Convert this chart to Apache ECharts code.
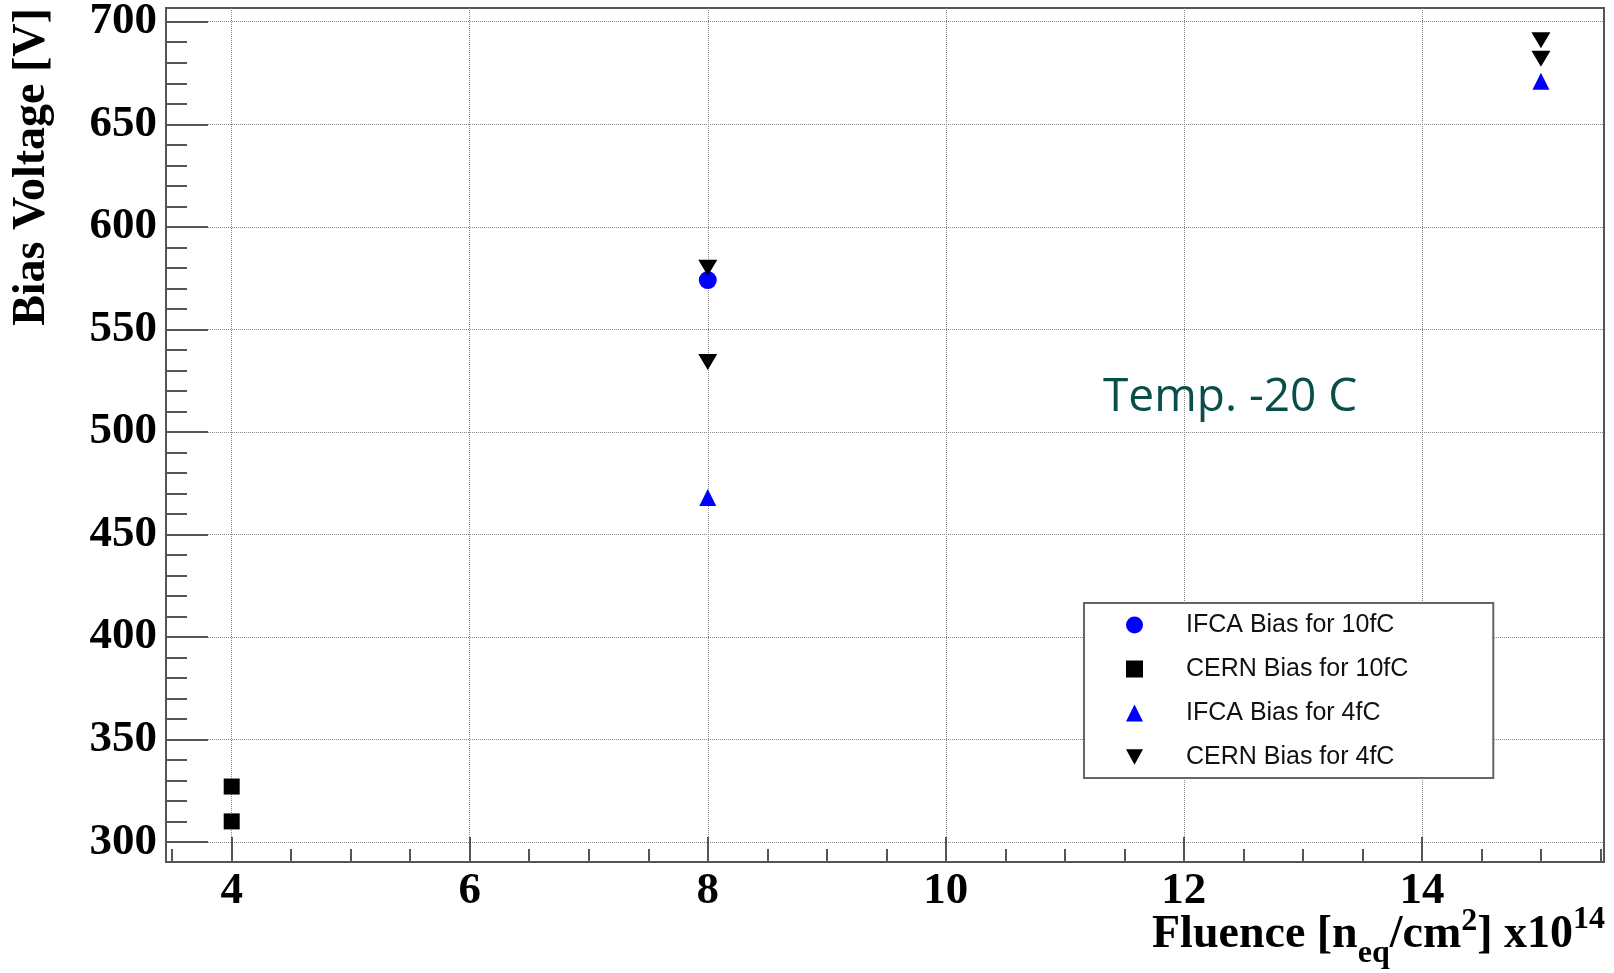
<!DOCTYPE html>
<html><head><meta charset="utf-8">
<script src="https://cdn.jsdelivr.net/npm/echarts@6/dist/echarts.min.js"></script>
<style>html,body{margin:0;padding:0;background:#fff}#c{width:1614px;height:973px}</style>
</head><body><div id="c"></div>
<script>
// ---- data ----
const seriesNames = ['IFCA Bias for 10fC', 'CERN Bias for 10fC', 'IFCA Bias for 4fC', 'CERN Bias for 4fC'];
const ifca10 = [[8, 574]];
const cern10 = [[4, 327], [4, 310]];
const ifca4 = [[8, 468], [15, 671]];
const cern4 = [[8, 580], [8, 534], [15, 691], [15, 682]];
const xTicks = [4, 6, 8, 10, 12, 14];
const yTicks = [300, 350, 400, 450, 500, 550, 600, 650, 700];
const xMinorTicks = [3.5, 4, 4.5, 5, 5.5, 6, 6.5, 7, 7.5, 8, 8.5, 9, 9.5, 10, 10.5, 11, 11.5, 12, 12.5, 13, 13.5, 14, 14.5, 15, 15.5];
const yMinorTicks = [300, 310, 320, 330, 340, 350, 360, 370, 380, 390, 400, 410, 420, 430, 440, 450, 460, 470, 480, 490, 500, 510, 520, 530, 540, 550, 560, 570, 580, 590, 600, 610, 620, 630, 640, 650, 660, 670, 680, 690, 700];
const xRange = [3.448, 15.53];
const yRange = [290.2, 706.7];
const tempLabel = 'Temp. -20 C';
const yTitle = 'Bias Voltage [V]';

// ---- chart ----
const chart = echarts.init(document.getElementById('c'), null, {renderer: 'canvas'});
const axisCol = '#555';
const gridCol = '#888';
const serif = '"Liberation Serif", "Times New Roman", serif';
const downTriangle = 'path://M0,0L20,0L10,18Z';

function mainX() {
  return {
    type: 'value', min: xRange[0], max: xRange[1], position: 'bottom', gridIndex: 0,
    axisLine: {show: true, onZero: false, lineStyle: {color: axisCol, width: 2}},
    axisTick: {show: true, inside: true, length: 25, customValues: xTicks, lineStyle: {color: axisCol, width: 2}},
    axisLabel: {show: true, customValues: xTicks, fontFamily: serif, fontWeight: 'bold', fontSize: 45, color: '#000', margin: 7},
    splitLine: {show: true, lineStyle: {type: 'dotted', color: gridCol, width: 1}},
    minorTick: {show: false}, minorSplitLine: {show: false}
  };
}
function minorX() {
  return {
    type: 'value', min: xRange[0], max: xRange[1], position: 'bottom', gridIndex: 0, offset: 0,
    axisLine: {show: false, onZero: false},
    axisTick: {show: true, inside: true, length: 13, customValues: xMinorTicks, lineStyle: {color: axisCol, width: 2}},
    axisLabel: {show: false}, splitLine: {show: false}
  };
}
function mainY() {
  return {
    type: 'value', min: yRange[0], max: yRange[1], position: 'left', gridIndex: 0,
    axisLine: {show: true, onZero: false, lineStyle: {color: axisCol, width: 2}},
    axisTick: {show: true, inside: true, length: 42, customValues: yTicks, lineStyle: {color: axisCol, width: 2}},
    axisLabel: {show: true, customValues: yTicks, fontFamily: serif, fontWeight: 'bold', fontSize: 45, color: '#000', margin: 9},
    splitLine: {show: true, lineStyle: {type: 'dotted', color: gridCol, width: 1}}
  };
}
function minorY() {
  return {
    type: 'value', min: yRange[0], max: yRange[1], position: 'left', gridIndex: 0, offset: 0,
    axisLine: {show: false, onZero: false},
    axisTick: {show: true, inside: true, length: 21, customValues: yMinorTicks, lineStyle: {color: axisCol, width: 2}},
    axisLabel: {show: false}, splitLine: {show: false}
  };
}

// x-axis title pieces with sub/superscripts, laid out by measuring text
const titleParts = [
  {t: 'Fluence [n', size: 46, dy: 0},
  {t: 'eq', size: 32, dy: 14},
  {t: '/cm', size: 46, dy: 0},
  {t: '2', size: 32, dy: -18},
  {t: '] x10', size: 46, dy: 0},
  {t: '14', size: 32, dy: -20}
];
const mctx = document.createElement('canvas').getContext('2d');
const graphics = [];
let cx = 1152;
const baseY = 951;
titleParts.forEach(p => {
  mctx.font = 'bold ' + p.size + 'px ' + serif;
  const w = mctx.measureText(p.t).width;
  graphics.push({
    type: 'text', x: cx, y: baseY + p.dy - 0.34 * p.size, z: 10,
    style: {text: p.t, fontFamily: serif, fontWeight: 'bold', fontSize: p.size, fill: '#000', align: 'left', verticalAlign: 'middle'}
  });
  cx += w;
});
graphics.push({
  type: 'text', x: 32, y: 167, rotation: Math.PI / 2, z: 10,
  style: {text: yTitle, fontFamily: serif, fontWeight: 'bold', fontSize: 46, fill: '#000', align: 'center', verticalAlign: 'middle'}
});
graphics.push({
  type: 'text', x: 1103, y: 398, z: 10,
  style: {text: tempLabel, fontFamily: '"Open Sans", "Noto Sans", sans-serif', fontSize: 46, fill: '#0a4e49', align: 'left', verticalAlign: 'middle'}
});

const option = {
  animation: false,
  backgroundColor: '#fff',
  grid: {left: 166, top: 8, right: 10, bottom: 111, show: true, borderColor: axisCol, borderWidth: 2, backgroundColor: 'transparent', containLabel: false, outerBoundsMode: 'none'},
  xAxis: [mainX(), minorX()],
  yAxis: [mainY(), minorY()],
  legend: {
    orient: 'vertical', left: 1084, top: 603,
    padding: [9, 85, 8, 42], itemGap: 18, itemWidth: 17, itemHeight: 17,
    borderColor: '#666', borderWidth: 2, backgroundColor: '#fff',
    textStyle: {fontFamily: '"Liberation Sans", Arial, sans-serif', fontSize: 25, color: '#111', lineHeight: 26, padding: [0, 0, 0, 38]},
    data: [
      {name: seriesNames[0]},
      {name: seriesNames[1]},
      {name: seriesNames[2]},
      {name: seriesNames[3], icon: downTriangle}
    ]
  },
  graphic: graphics,
  series: [
    {name: seriesNames[0], type: 'scatter', xAxisIndex: 0, yAxisIndex: 0, data: ifca10, symbol: 'circle', symbolSize: 18, itemStyle: {color: '#0000ff', opacity: 1}},
    {name: seriesNames[1], type: 'scatter', xAxisIndex: 0, yAxisIndex: 0, data: cern10, symbol: 'rect', symbolSize: 16, itemStyle: {color: '#000', opacity: 1}},
    {name: seriesNames[2], type: 'scatter', xAxisIndex: 0, yAxisIndex: 0, data: ifca4, symbol: 'triangle', symbolSize: [17, 17], itemStyle: {color: '#0000ff', opacity: 1}},
    {name: seriesNames[3], type: 'scatter', xAxisIndex: 0, yAxisIndex: 0, data: cern4, symbol: 'triangle', symbolRotate: 180, symbolSize: [19, 16], itemStyle: {color: '#000', opacity: 1}}
  ]
};
chart.setOption(option);
</script>
</body></html>
